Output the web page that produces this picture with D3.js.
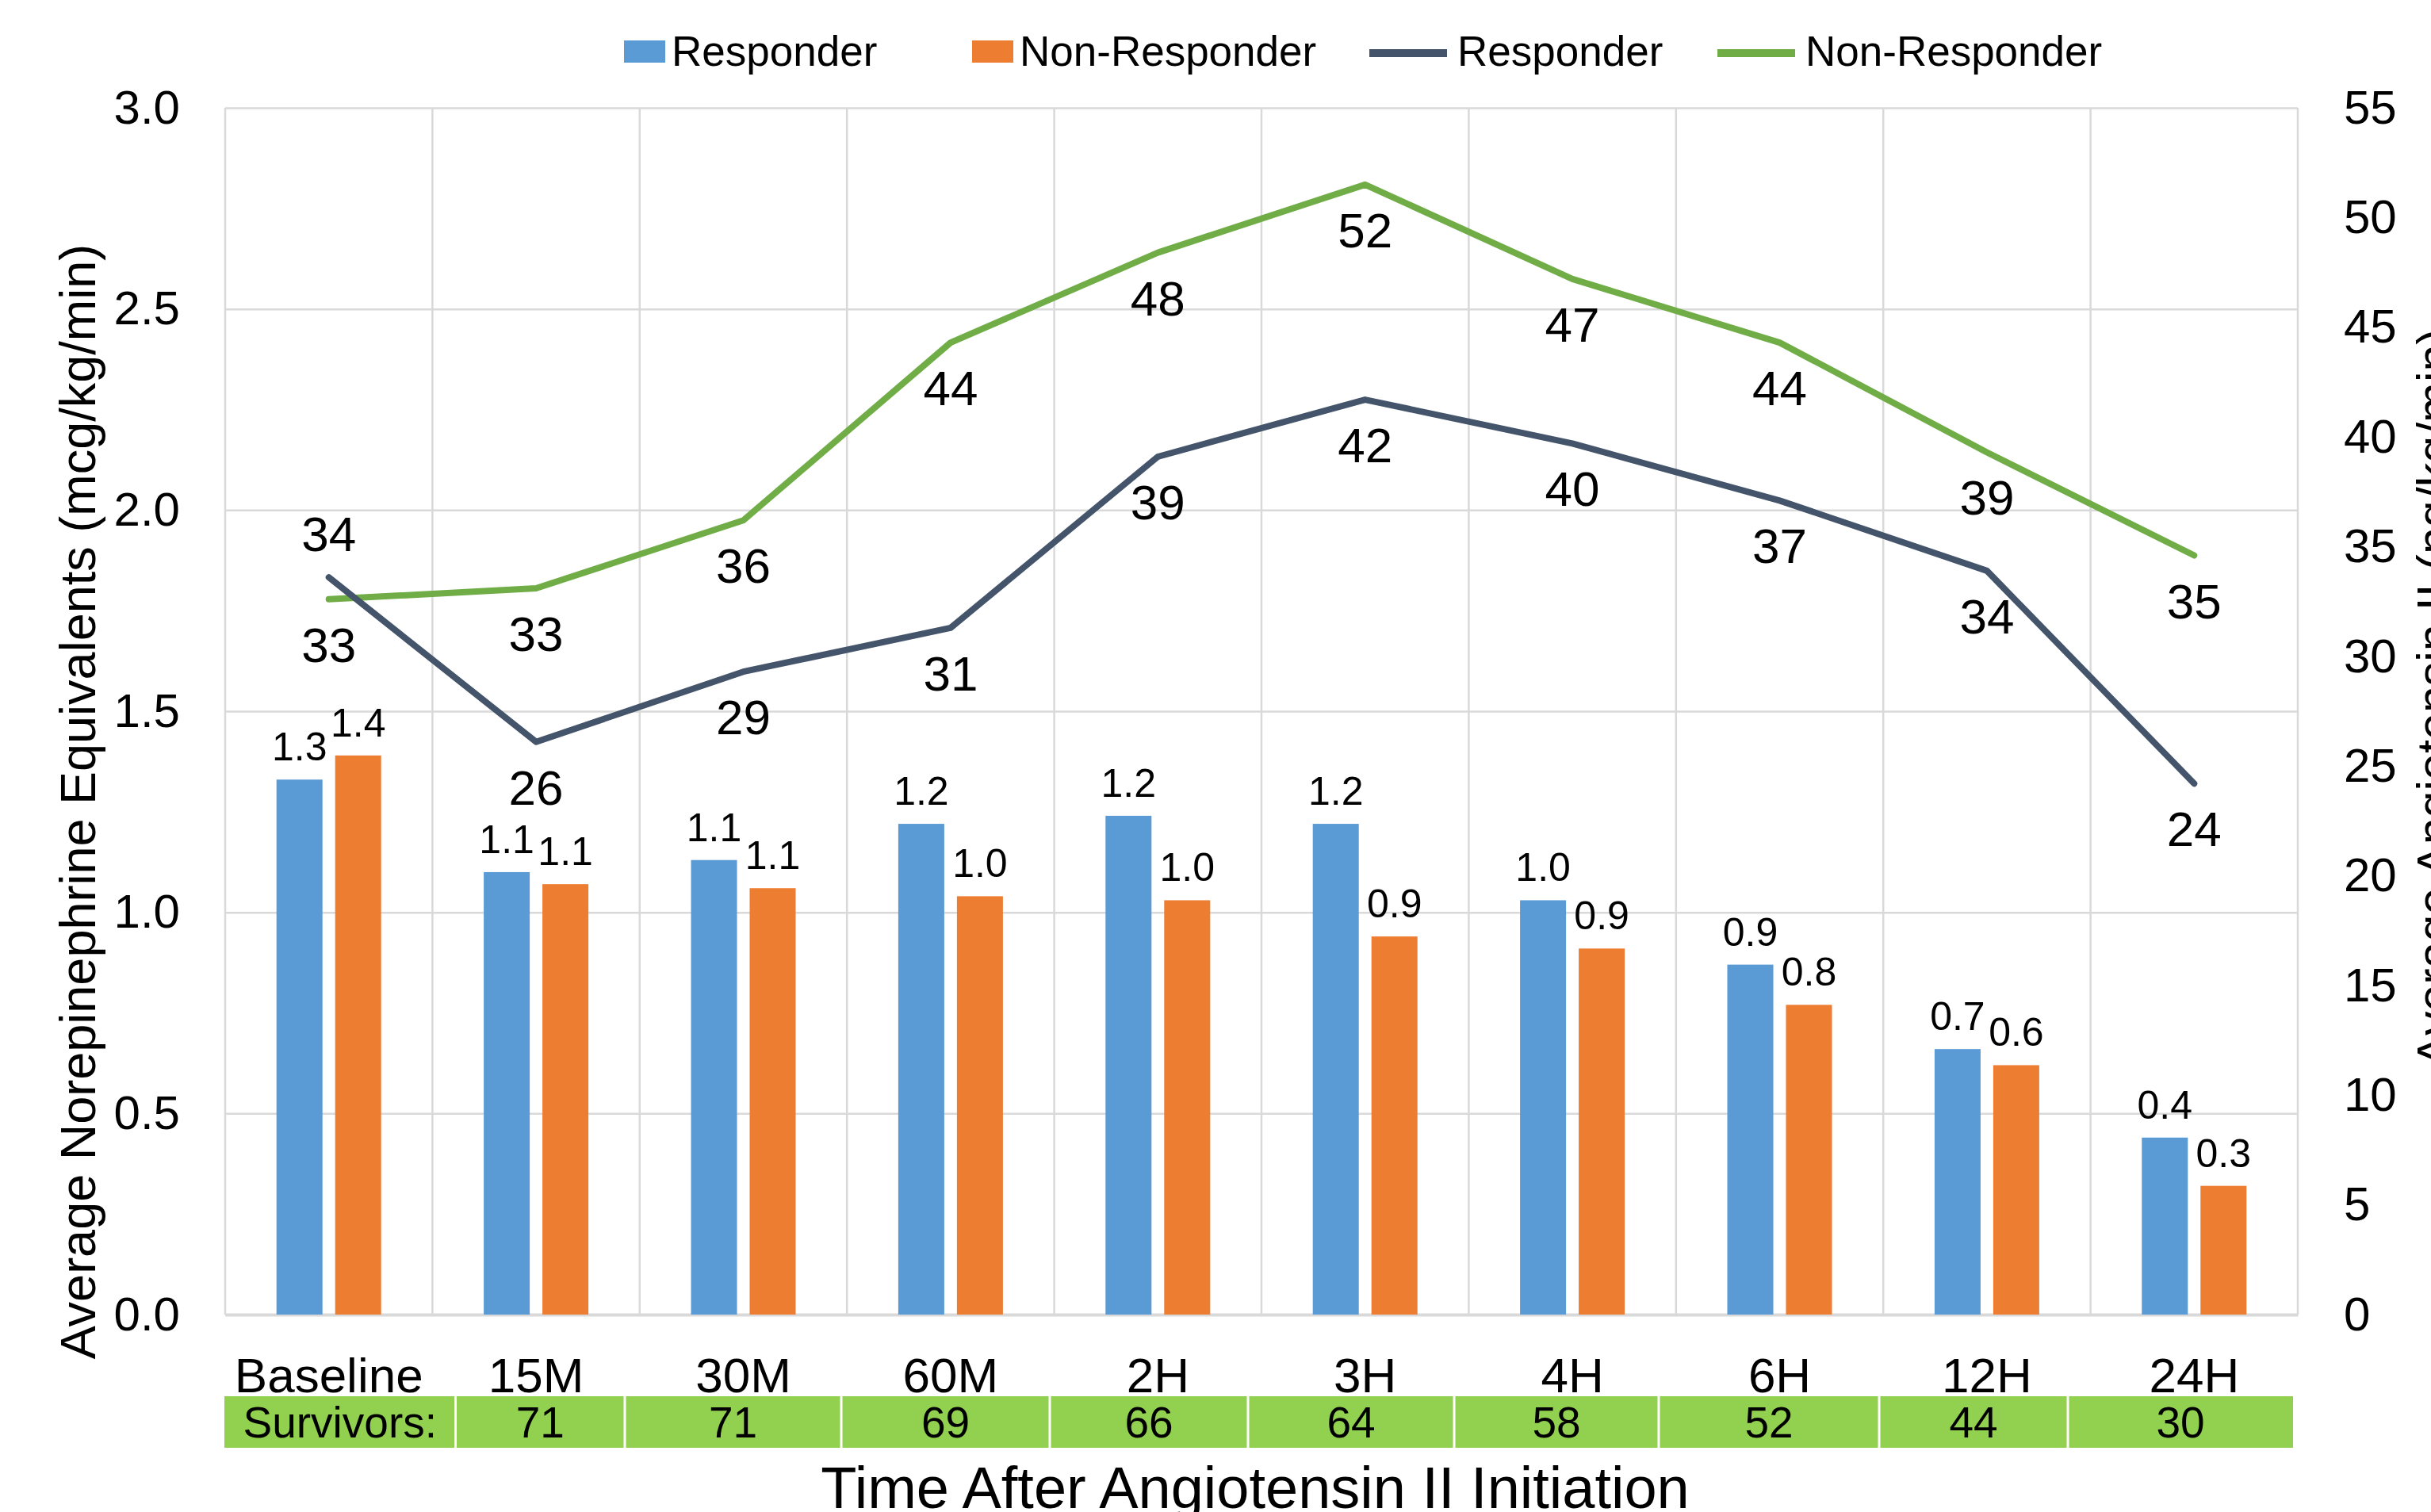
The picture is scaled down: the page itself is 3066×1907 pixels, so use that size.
<!DOCTYPE html>
<html>
<head>
<meta charset="utf-8">
<script src="https://cdn.jsdelivr.net/npm/d3@7"></script>
<style>
  body { margin: 0; background: #fff; }
  text { font-family: "Liberation Sans", Arial, sans-serif; fill: #000; }
</style>
</head>
<body>
<div id="my_dataviz"></div>
<script>
// Data
var categories = ["Baseline", "15M", "30M", "60M", "2H", "3H", "4H", "6H", "12H", "24H"];
var barResponder = [1.33, 1.10, 1.13, 1.22, 1.24, 1.22, 1.03, 0.87, 0.66, 0.44];
var barNonResponder = [1.39, 1.07, 1.06, 1.04, 1.03, 0.94, 0.91, 0.77, 0.62, 0.32];
var lineResponder = [33.6, 26.1, 29.3, 31.3, 39.1, 41.7, 39.7, 37.1, 33.9, 24.2];
var lineNonResponder = [32.6, 33.1, 36.2, 44.3, 48.4, 51.5, 47.2, 44.3, 39.3, 34.6];
var survivorsLabel = "Survivors:";
var survivors = [71, 71, 69, 66, 64, 58, 52, 44, 30];
var leftTicks = [0, 0.5, 1, 1.5, 2, 2.5, 3];
var rightTicks = [0, 5, 10, 15, 20, 25, 30, 35, 40, 45, 50, 55];
var legendLabels = ["Responder", "Non-Responder", "Responder", "Non-Responder"];

// Layout
var W = 3066, H = 1907;
var plot = {left: 284, right: 2898, top: 136, bottom: 1658};
var colors = {resp: "#5B9BD5", non: "#ED7D31", lineResp: "#44546A", lineNon: "#70AD47", grid: "#D9D9D9", table: "#92D050"};
// cell edges of the survivors strip (it does not follow the category bands)
var cellEdges = [283, 574.5, 788, 1061, 1324, 1574, 1834, 2092, 2370, 2608, 2892];
var legendX = [787, 1226, 1727, 2166];

var svg = d3.select("#my_dataviz")
  .append("svg")
    .attr("width", W)
    .attr("height", H);

svg.append("rect").attr("width", W).attr("height", H).attr("fill", "#fff");

// Scales
var x = d3.scaleBand().domain(categories).range([plot.left, plot.right]).padding(0);
var xSub = d3.scaleBand().domain(["resp", "non"])
  .range([x.bandwidth() / 2 - 66, x.bandwidth() / 2 + 66])
  .paddingInner(0.216).paddingOuter(0);
var yLeft = d3.scaleLinear().domain([0, 3]).range([plot.bottom, plot.top]);
var yRight = d3.scaleLinear().domain([0, 55]).range([plot.bottom, plot.top]);

// Horizontal gridlines
svg.append("g")
  .attr("transform", "translate(" + plot.left + ",0)")
  .call(d3.axisLeft(yLeft).tickValues(leftTicks).tickSize(-(plot.right - plot.left)).tickFormat(""))
  .call(function(g) { g.select(".domain").remove(); })
  .selectAll("line").attr("stroke", colors.grid).attr("stroke-width", 2.5);

// Vertical gridlines at band edges
var edges = categories.map(function(c) { return x(c); }).concat([plot.right]);
svg.append("g").selectAll("line")
  .data(edges)
  .enter().append("line")
    .attr("x1", function(d) { return d; })
    .attr("x2", function(d) { return d; })
    .attr("y1", plot.top)
    .attr("y2", plot.bottom)
    .attr("stroke", colors.grid)
    .attr("stroke-width", 2.5);

// Bottom axis line + category labels
var xAxis = svg.append("g")
  .attr("transform", "translate(0," + plot.bottom + ")")
  .call(d3.axisBottom(x).tickSize(0).tickPadding(54));
xAxis.select(".domain").attr("stroke", colors.grid).attr("stroke-width", 4);
xAxis.selectAll("text").attr("font-size", 62).style("font-family", "'Liberation Sans', Arial, sans-serif").attr("fill", "#000");

// Left axis
var yAxisL = svg.append("g")
  .attr("transform", "translate(" + plot.left + ",0)")
  .call(d3.axisLeft(yLeft).tickValues(leftTicks).tickFormat(d3.format(".1f")).tickSize(0).tickPadding(57));
yAxisL.select(".domain").remove();
yAxisL.selectAll("text").attr("font-size", 60).style("font-family", "'Liberation Sans', Arial, sans-serif").attr("fill", "#000");

// Right axis
var yAxisR = svg.append("g")
  .attr("transform", "translate(" + plot.right + ",0)")
  .call(d3.axisRight(yRight).tickValues(rightTicks).tickFormat(d3.format("d")).tickSize(0).tickPadding(58));
yAxisR.select(".domain").remove();
yAxisR.selectAll("text").attr("font-size", 60).style("font-family", "'Liberation Sans', Arial, sans-serif").attr("fill", "#000");

// Bars
var barSeries = [
  {key: "resp", values: barResponder, color: colors.resp},
  {key: "non", values: barNonResponder, color: colors.non}
];
barSeries.forEach(function(s) {
  var g = svg.append("g");
  g.selectAll("rect")
    .data(s.values)
    .enter().append("rect")
      .attr("x", function(d, i) { return x(categories[i]) + xSub(s.key); })
      .attr("y", function(d) { return yLeft(d); })
      .attr("width", xSub.bandwidth())
      .attr("height", function(d) { return yLeft(0) - yLeft(d); })
      .attr("fill", s.color);
  g.selectAll("text")
    .data(s.values)
    .enter().append("text")
      .attr("x", function(d, i) { return x(categories[i]) + xSub(s.key) + xSub.bandwidth() / 2; })
      .attr("y", function(d) { return yLeft(d) - 24; })
      .attr("text-anchor", "middle")
      .attr("font-size", 50)
      .text(function(d) { return d.toFixed(1); });
});

// Lines
var line = d3.line()
  .x(function(d, i) { return x(categories[i]) + x.bandwidth() / 2; })
  .y(function(d) { return yRight(d); });

var lineSeries = [
  {values: lineNonResponder, color: colors.lineNon, above: []},
  {values: lineResponder, color: colors.lineResp, above: ["Baseline"]}
];
lineSeries.forEach(function(s) {
  svg.append("path")
    .datum(s.values)
    .attr("fill", "none")
    .attr("stroke", s.color)
    .attr("stroke-width", 8)
    .attr("stroke-linejoin", "round")
    .attr("stroke-linecap", "round")
    .attr("d", line);
});
lineSeries.forEach(function(s) {
  svg.append("g").selectAll("text")
    .data(s.values)
    .enter().append("text")
      .attr("x", function(d, i) { return x(categories[i]) + x.bandwidth() / 2; })
      .attr("y", function(d, i) { return yRight(d) + (s.above.indexOf(categories[i]) >= 0 ? -33 : 79); })
      .attr("text-anchor", "middle")
      .attr("font-size", 62)
      .text(function(d) { return Math.round(d); });
});

// Survivors strip
var strip = svg.append("g");
var cells = [survivorsLabel].concat(survivors);
strip.append("rect")
  .attr("x", cellEdges[0]).attr("y", 1761)
  .attr("width", cellEdges[cellEdges.length - 1] - cellEdges[0]).attr("height", 65)
  .attr("fill", colors.table);
strip.selectAll("line")
  .data(cellEdges.slice(1, -1))
  .enter().append("line")
    .attr("x1", function(d) { return d; }).attr("x2", function(d) { return d; })
    .attr("y1", 1761).attr("y2", 1826)
    .attr("stroke", "#fff").attr("stroke-width", 3);
strip.selectAll("text")
  .data(cells)
  .enter().append("text")
    .attr("x", function(d, i) { return (cellEdges[i] + cellEdges[i + 1]) / 2; })
    .attr("y", 1813)
    .attr("text-anchor", "middle")
    .attr("font-size", 55)
    .text(function(d) { return d; });

// Axis titles
svg.append("text")
  .attr("transform", "translate(120,1011) rotate(-90)")
  .attr("text-anchor", "middle")
  .attr("font-size", 63)
  .text("Average Norepinephrine Equivalents (mcg/kg/min)");

svg.append("text")
  .attr("transform", "translate(3091,880) rotate(-90)")
  .attr("text-anchor", "middle")
  .attr("font-size", 61)
  .text("Average Angiotensin II (ng/kg/min)");

svg.append("text")
  .attr("x", 1583)
  .attr("y", 1902)
  .attr("text-anchor", "middle")
  .attr("font-size", 74)
  .text("Time After Angiotensin II Initiation");

// Legend
var legendKinds = [
  {type: "rect", color: colors.resp},
  {type: "rect", color: colors.non},
  {type: "line", color: colors.lineResp},
  {type: "line", color: colors.lineNon}
];
var legend = svg.append("g").attr("class", "legend");
legendKinds.forEach(function(k, i) {
  var x0 = legendX[i];
  if (k.type === "rect") {
    legend.append("rect")
      .attr("x", x0).attr("y", 51).attr("width", 52).attr("height", 28)
      .attr("fill", k.color);
    legend.append("text").attr("x", x0 + 60).attr("y", 83).attr("font-size", 53).text(legendLabels[i]);
  } else {
    legend.append("line")
      .attr("x1", x0).attr("x2", x0 + 98).attr("y1", 67).attr("y2", 67)
      .attr("stroke", k.color).attr("stroke-width", 10);
    legend.append("text").attr("x", x0 + 111).attr("y", 83).attr("font-size", 53).text(legendLabels[i]);
  }
});
</script>
</body>
</html>
